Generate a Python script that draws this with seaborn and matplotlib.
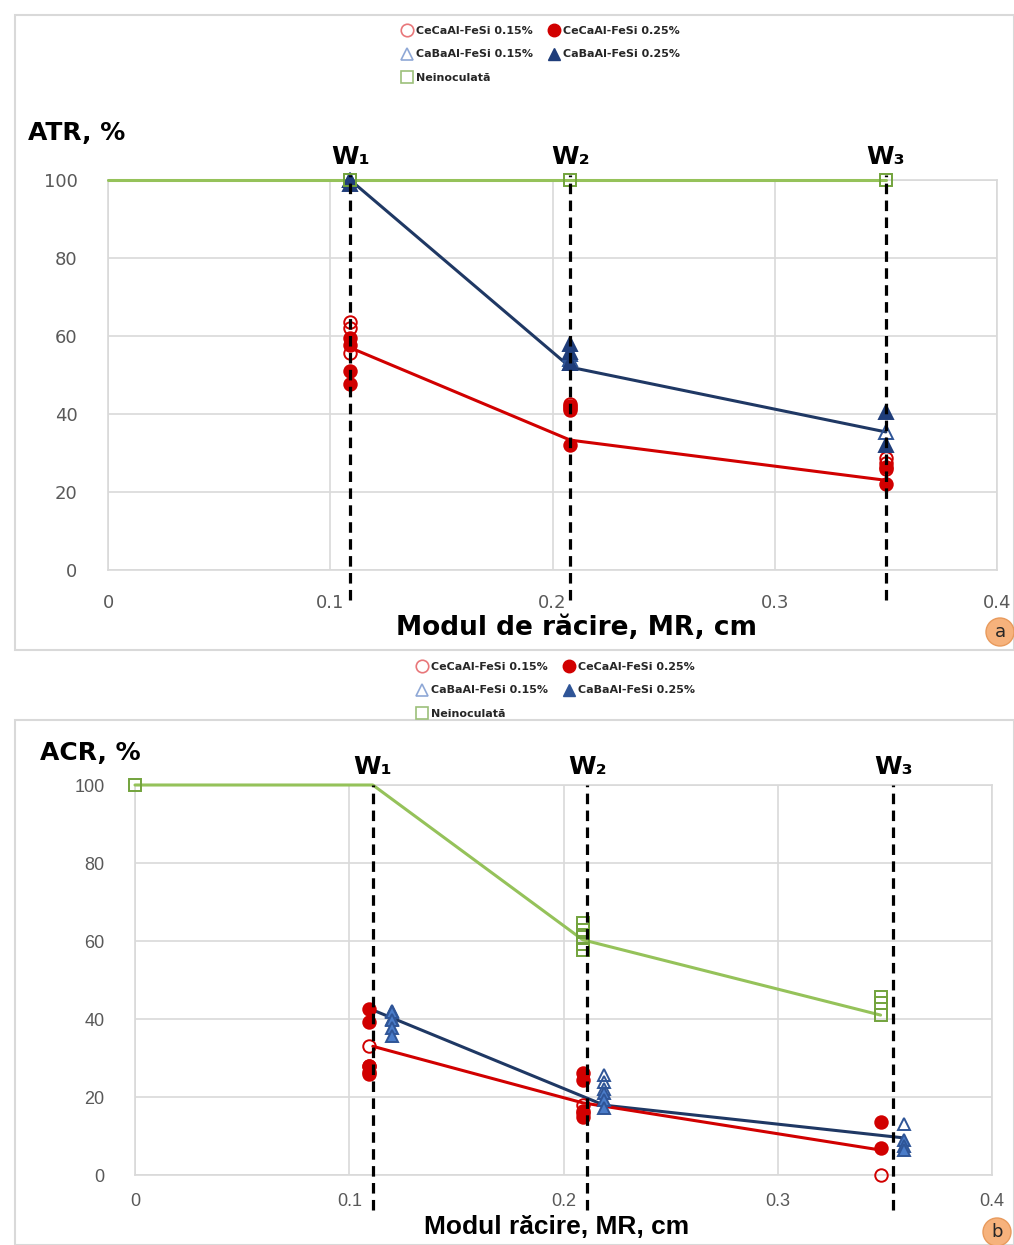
import numpy as np
import matplotlib.pyplot as plt
import seaborn as sns
from matplotlib.lines import Line2D
from matplotlib.patches import Rectangle, Circle

# ---------------- data: panel a (ATR) ----------------
a_w_x = [0.109, 0.208, 0.35]
a_green_line_x = [0, 0.109, 0.208, 0.35]
a_green_line_y = [100, 100, 100, 100]
a_blue_line_y = [100, 52, 35.4]
a_red_line_y = [57, 33.3, 23]

a_ce15_x = [0.109, 0.109, 0.109, 0.208, 0.208, 0.35, 0.35, 0.35]
a_ce15_y = [63.6, 62, 55.6, 42.5, 41.5, 28.7, 27.4, 26]
a_ce25_x = [0.109, 0.109, 0.109, 0.109, 0.208, 0.208, 0.208, 0.35, 0.35]
a_ce25_y = [59.5, 57.7, 51, 47.7, 42, 41, 32, 26.5, 22]
a_ba15_x = [0.109, 0.208, 0.208, 0.208, 0.35]
a_ba15_y = [100, 55.5, 54, 53, 35.4]
a_ba25_x = [0.109, 0.109, 0.208, 0.208, 0.208, 0.35, 0.35]
a_ba25_y = [100, 99, 58, 56, 53, 40.5, 32]
a_neino_x = [0.109, 0.208, 0.35]
a_neino_y = [100, 100, 100]

# ---------------- data: panel b (ACR) ----------------
b_w_x = [0.111, 0.211, 0.354]
b_green_line_x = [0, 0.111, 0.209, 0.348]
b_green_line_y = [100, 100, 60.3, 41]
b_blue_line_x = [0.111, 0.219, 0.359]
b_blue_line_y = [42.3, 17.9, 9.5]
b_red_line_x = [0.111, 0.209, 0.348]
b_red_line_y = [33, 18.5, 6.4]

b_ce15_x = [0.109, 0.109, 0.109, 0.209, 0.209, 0.348]
b_ce15_y = [33, 28, 26.5, 18, 16, 0]
b_ce25_x = [0.109, 0.109, 0.109, 0.109, 0.209, 0.209, 0.209, 0.209, 0.348, 0.348]
b_ce25_y = [42.6, 39.2, 28, 26, 26.2, 24.4, 16.5, 14.9, 13.6, 7]
b_ba15_x = [0.12, 0.12, 0.219, 0.219, 0.219, 0.359]
b_ba15_y = [42, 40, 25.6, 23.8, 22, 13]
b_ba25_x = [0.12, 0.12, 0.12, 0.12, 0.219, 0.219, 0.219, 0.359, 0.359, 0.359]
b_ba25_y = [41.8, 39.7, 37.7, 35.6, 21, 19.2, 17.2, 9, 7.4, 6.4]
b_neino_x = [0, 0.209, 0.209, 0.209, 0.209, 0.209, 0.348, 0.348, 0.348]
b_neino_y = [100, 64.6, 62.8, 61, 59.2, 57.7, 45.6, 44, 41]

x_ticks = [0, 0.1, 0.2, 0.3, 0.4]
x_tick_labels = ["0", "0.1", "0.2", "0.3", "0.4"]
y_ticks = [0, 20, 40, 60, 80, 100]
w_labels = ["W\u2081", "W\u2082", "W\u2083"]
legend_labels = ["CeCaAl-FeSi 0.15%", "CaBaAl-FeSi 0.15%", "Neinoculat\u0103",
                 "CeCaAl-FeSi 0.25%", "CaBaAl-FeSi 0.25%"]

RED = "#d10000"
NAVY = "#1f3864"
GREEN = "#95c25a"
GREEN_EDGE = "#72a33c"
GRID = "#d9d9d9"

sns.set_style("white")
plt.rcParams["font.family"] = ["DejaVu Sans"]

W, H = 1014, 1245
fig = plt.figure(figsize=(W / 100, H / 100), dpi=100)


def fx(x):
    return x / W


def fy(y):
    return 1 - y / H


def pts(ax, x, y, marker, color, filled, size=9, edge=None):
    sns.lineplot(x=x, y=y, ax=ax, estimator=None, sort=False, linestyle="",
                 marker=marker, markersize=size, color=color,
                 markerfacecolor=color if filled else "none",
                 markeredgecolor=edge if edge else color, markeredgewidth=1.4,
                 clip_on=False, zorder=4, legend=False)


def line(ax, x, y, color):
    sns.lineplot(x=x, y=y, ax=ax, estimator=None, sort=False, color=color,
                 linewidth=2.2, clip_on=False, zorder=3, legend=False)


def setup(ax, tickfont, xpad):
    ax.set_xlim(0, 0.4)
    ax.set_ylim(0, 100)
    ax.set_xticks(x_ticks)
    ax.set_xticklabels(x_tick_labels)
    ax.set_yticks(y_ticks)
    ax.grid(True, color=GRID, linewidth=1.2)
    for s in ax.spines.values():
        s.set_color(GRID)
        s.set_linewidth(1.2)
    ax.tick_params(length=0, labelsize=13, labelcolor="#595959")
    ax.tick_params(axis="x", pad=xpad)
    ax.tick_params(axis="y", pad=22)
    for t in ax.get_xticklabels() + ax.get_yticklabels():
        t.set_fontfamily(tickfont)
    ax.set_xlabel("")
    ax.set_ylabel("")


def legend(cx, top, tri_fill):
    h = [
        Line2D([], [], ls="", marker="o", ms=9, mfc="none", mec="#e8777a", mew=1.2),
        Line2D([], [], ls="", marker="^", ms=9, mfc="none", mec="#8fa8d6", mew=1.2),
        Line2D([], [], ls="", marker="s", ms=8, mfc="none", mec="#9cc07a", mew=1.2),
        Line2D([], [], ls="", marker="o", ms=9, mfc=RED, mec=RED),
        Line2D([], [], ls="", marker="^", ms=9, mfc=tri_fill, mec=tri_fill),
    ]
    fig.legend(h, legend_labels, ncol=2, loc="upper center",
               bbox_to_anchor=(fx(cx), fy(top)), frameon=False,
               prop={"size": 8, "weight": "bold"}, labelcolor="#262626",
               handletextpad=0.2, columnspacing=1.2, labelspacing=1.25,
               handlelength=1.3, borderpad=0)


# frames
fig.add_artist(Rectangle((fx(15), fy(650)), fx(1014) - fx(15), fy(15) - fy(650),
                         transform=fig.transFigure, fill=False, edgecolor=GRID, lw=1.5))
fig.add_artist(Rectangle((fx(15), fy(1245)), fx(1014) - fx(15), fy(720) - fy(1245),
                         transform=fig.transFigure, fill=False, edgecolor=GRID, lw=1.5))

# ---------------- panel a ----------------
axa = fig.add_axes([fx(108), fy(570), fx(997) - fx(108), fy(180) - fy(570)])
setup(axa, "DejaVu Sans", 17)
line(axa, a_green_line_x, a_green_line_y, GREEN)
line(axa, a_w_x, a_blue_line_y, NAVY)
line(axa, a_w_x, a_red_line_y, RED)
pts(axa, a_ce15_x, a_ce15_y, "o", RED, False)
pts(axa, a_ce25_x, a_ce25_y, "o", RED, True)
pts(axa, a_ba15_x, a_ba15_y, "^", "#2f5597", False, size=10)
pts(axa, a_ba25_x, a_ba25_y, "^", "#1f3d7a", True, size=10)
pts(axa, a_neino_x, a_neino_y, "s", GREEN_EDGE, False, size=8)
for xw, lab in zip(a_w_x, w_labels):
    axa.axvline(xw, ymin=-0.077, ymax=1.013, color="black", lw=2.3,
                ls=(0, (3.3, 2.0)), clip_on=False, zorder=5)
    axa.text(xw, 106, lab, ha="center", va="center", fontsize=18,
             fontweight="bold", color="black", clip_on=False)
fig.text(fx(28), fy(133), "ATR, %", fontsize=18, fontweight="bold",
         ha="left", va="center", color="black")
fig.text(fx(577), fy(628), "Modul de r\u0103cire, MR, cm", fontsize=19,
         fontweight="bold", ha="center", va="center", color="black")
legend(540, 20, "#1f3d7a")

# ---------------- panel b ----------------
axb = fig.add_axes([fx(135), fy(1175), fx(992) - fx(135), fy(785) - fy(1175)])
setup(axb, "Liberation Sans", 13)
line(axb, b_green_line_x, b_green_line_y, GREEN)
line(axb, b_blue_line_x, b_blue_line_y, NAVY)
line(axb, b_red_line_x, b_red_line_y, RED)
pts(axb, b_ce15_x, b_ce15_y, "o", RED, False)
pts(axb, b_ce25_x, b_ce25_y, "o", RED, True)
pts(axb, b_ba15_x, b_ba15_y, "^", "#2f5597", False)
pts(axb, b_ba25_x, b_ba25_y, "^", "#4a7cc9", True, edge="#2f5597")
pts(axb, b_neino_x, b_neino_y, "s", GREEN_EDGE, False, size=8)
for xw, lab in zip(b_w_x, w_labels):
    axb.axvline(xw, ymin=-0.09, ymax=1.0, color="black", lw=2.3,
                ls=(0, (3.3, 2.0)), clip_on=False, zorder=5)
    axb.text(xw, 104.5, lab, ha="center", va="center", fontsize=18,
             fontweight="bold", color="black", clip_on=False)
fig.text(fx(40), fy(753), "ACR, %", fontsize=18, fontweight="bold",
         ha="left", va="center", color="black")
fig.text(fx(557), fy(1227), "Modul r\u0103cire, MR, cm", fontsize=19,
         fontweight="bold", ha="center", va="center", color="black",
         family="Liberation Sans")
legend(555, 656, "#2f5597")

# panel letters
for (cx, cy, letter) in [(1000, 632, "a"), (997, 1232, "b")]:
    fig.add_artist(Circle((cx / 100, (H - cy) / 100), 0.14,
                          transform=fig.dpi_scale_trans, facecolor="#f6b27c",
                          edgecolor="#e89a5c", lw=1))
    fig.text(fx(cx), fy(cy), letter, ha="center", va="center", fontsize=13,
             color="#262626")

fig.savefig("out.png", dpi=100)
